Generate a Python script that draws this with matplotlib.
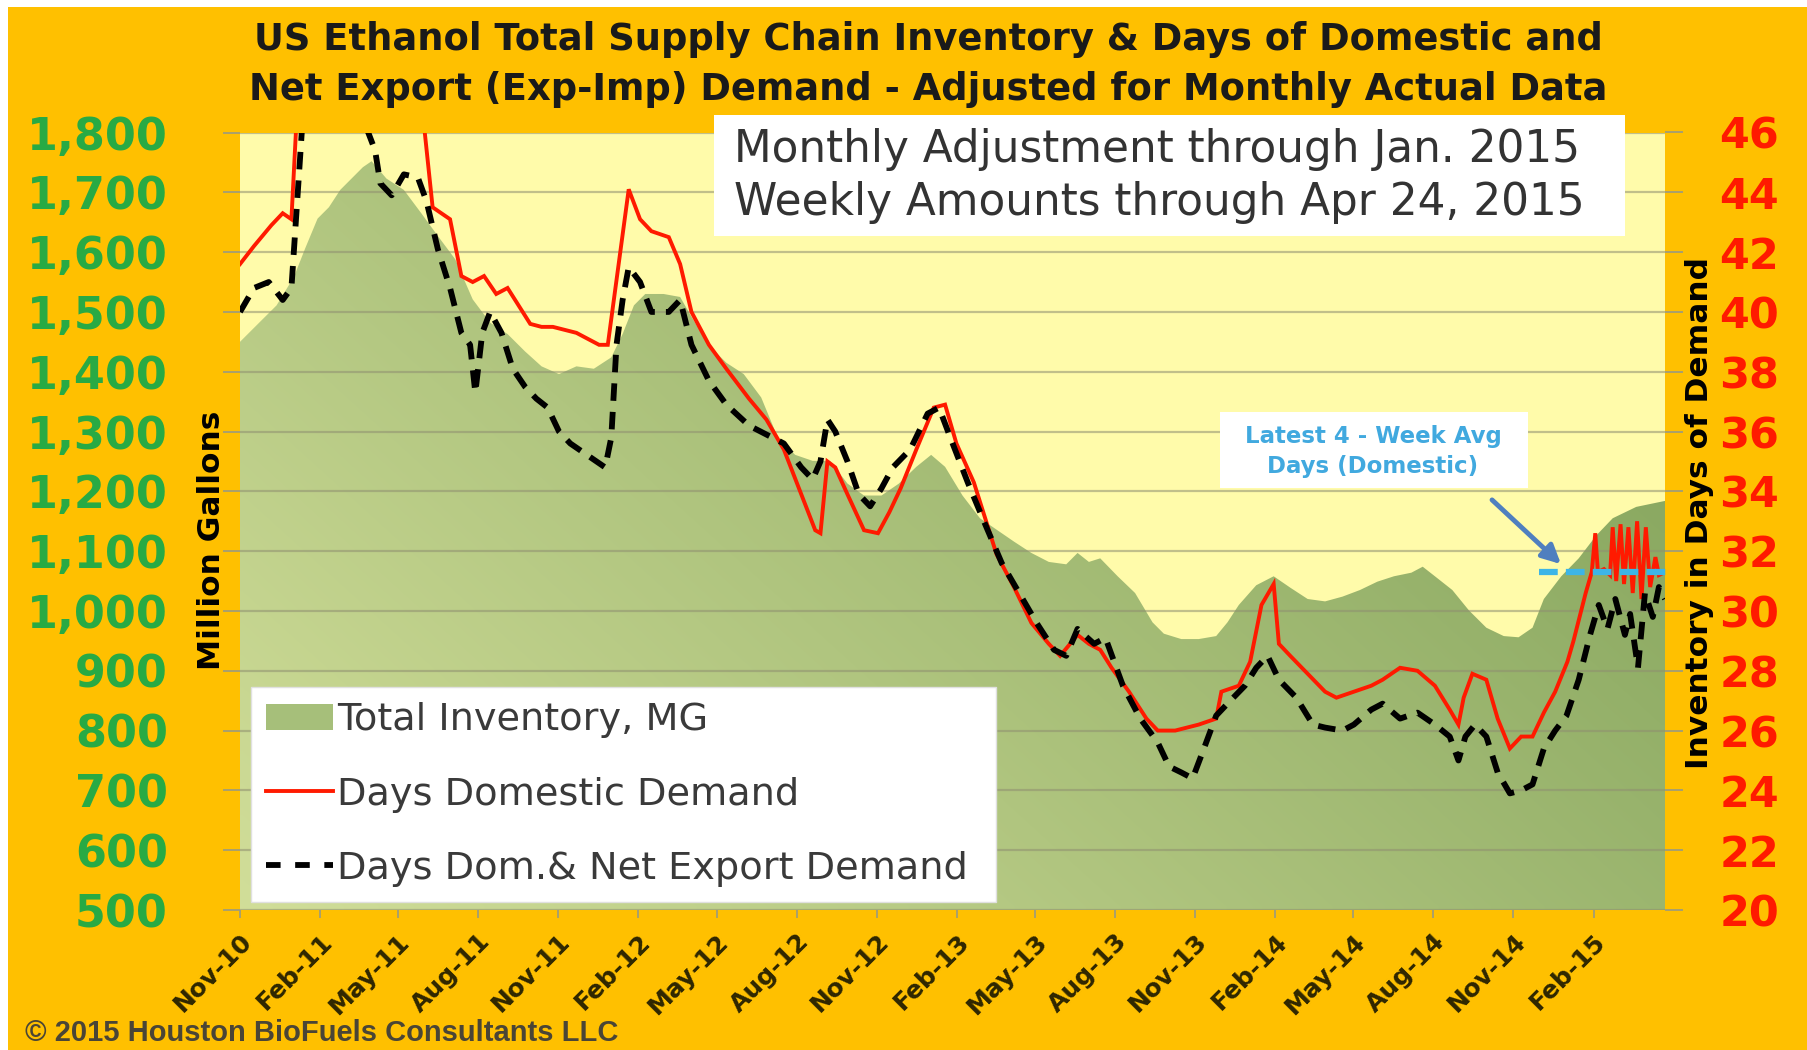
import matplotlib
matplotlib.use("Agg")
import matplotlib.pyplot as plt
import numpy as np
import pandas as pd
from matplotlib.lines import Line2D
from matplotlib.patches import Patch, Rectangle, FancyArrowPatch

# ---------------- data ----------------
inv_dates = ["2010-11-01", "2010-11-23", "2010-12-13", "2011-01-02", "2011-01-15", "2011-01-29",
             "2011-02-11", "2011-02-24", "2011-03-09", "2011-03-22", "2011-04-01", "2011-04-18",
             "2011-05-08", "2011-05-28", "2011-06-16", "2011-07-06", "2011-07-26", "2011-08-15",
             "2011-09-04", "2011-09-24", "2011-10-13", "2011-11-02", "2011-11-22", "2011-12-12",
             "2012-01-01", "2012-01-14", "2012-01-27", "2012-02-09", "2012-03-01", "2012-03-20",
             "2012-04-02", "2012-04-22", "2012-05-12", "2012-06-01", "2012-06-21", "2012-07-10",
             "2012-07-30", "2012-08-19", "2012-09-08", "2012-09-28", "2012-10-17", "2012-11-06",
             "2012-11-26", "2012-12-16", "2013-01-02", "2013-01-18", "2013-02-07", "2013-02-27",
             "2013-03-18", "2013-04-07", "2013-04-27", "2013-05-17", "2013-06-06", "2013-06-19",
             "2013-07-02", "2013-07-15", "2013-08-04", "2013-08-24", "2013-09-13", "2013-09-26",
             "2013-10-16", "2013-11-05", "2013-11-25", "2013-12-08", "2013-12-21", "2014-01-10",
             "2014-01-30", "2014-02-18", "2014-03-10", "2014-03-30", "2014-04-19", "2014-05-09",
             "2014-05-29", "2014-06-17", "2014-07-07", "2014-07-20", "2014-08-03", "2014-08-23",
             "2014-09-11", "2014-10-01", "2014-10-21", "2014-11-07", "2014-11-23", "2014-12-06",
             "2014-12-26", "2015-01-15", "2015-02-04", "2015-02-23", "2015-03-22", "2015-04-24"]
inv_mg = [1450, 1482, 1511, 1559, 1607, 1656,
          1675, 1704, 1723, 1742, 1752, 1723,
          1704, 1665, 1627, 1588, 1521, 1482,
          1463, 1434, 1409, 1396, 1409, 1405,
          1424, 1463, 1511, 1530, 1530, 1525,
          1492, 1444, 1415, 1396, 1357, 1290,
          1261, 1251, 1251, 1213, 1193, 1193,
          1213, 1241, 1261, 1241, 1193, 1155,
          1136, 1116, 1097, 1082, 1078, 1097,
          1082, 1088, 1058, 1030, 981, 962,
          953, 953, 958, 981, 1010, 1043,
          1058, 1039, 1020, 1016, 1024, 1035,
          1049, 1058, 1064, 1074, 1058, 1035,
          1001, 972, 958, 956, 972, 1020,
          1058, 1088, 1126, 1155, 1174, 1184]

dom_dates = ["2010-11-01", "2010-11-17", "2010-12-07", "2010-12-20", "2010-12-30", "2011-01-05",
             "2011-02-01", "2011-04-01", "2011-05-20", "2011-06-01", "2011-06-10", "2011-06-30",
             "2011-07-13", "2011-07-26", "2011-08-08", "2011-08-22", "2011-09-04", "2011-09-17",
             "2011-09-30", "2011-10-13", "2011-10-26", "2011-11-22", "2011-12-18", "2011-12-28",
             "2012-01-21", "2012-02-03", "2012-02-16", "2012-03-07", "2012-03-20", "2012-04-02",
             "2012-04-22", "2012-05-12", "2012-06-07", "2012-06-27", "2012-07-17", "2012-08-06",
             "2012-08-22", "2012-08-28", "2012-09-05", "2012-09-14", "2012-09-28", "2012-10-17",
             "2012-11-02", "2012-11-15", "2012-11-28", "2012-12-16", "2013-01-05", "2013-01-18",
             "2013-01-31", "2013-02-20", "2013-03-05", "2013-03-18", "2013-04-07", "2013-04-27",
             "2013-05-17", "2013-05-30", "2013-06-19", "2013-07-02", "2013-07-15", "2013-07-28",
             "2013-08-17", "2013-09-06", "2013-09-19", "2013-10-09", "2013-11-05", "2013-11-25",
             "2013-12-01", "2013-12-21", "2014-01-03", "2014-01-16", "2014-01-30", "2014-02-05",
             "2014-02-18", "2014-03-10", "2014-03-30", "2014-04-12", "2014-05-02", "2014-05-22",
             "2014-06-04", "2014-06-24", "2014-07-14", "2014-08-03", "2014-08-20", "2014-08-30",
             "2014-09-05", "2014-09-15", "2014-10-01", "2014-10-14", "2014-10-28", "2014-11-10",
             "2014-11-23", "2014-12-06", "2014-12-19", "2015-01-02", "2015-01-09", "2015-01-16",
             "2015-01-23", "2015-01-30", "2015-02-03", "2015-02-06", "2015-02-13", "2015-02-20",
             "2015-02-23", "2015-02-27", "2015-03-04", "2015-03-08", "2015-03-13", "2015-03-18",
             "2015-03-23", "2015-03-28", "2015-04-02", "2015-04-07", "2015-04-13", "2015-04-17",
             "2015-04-24"]
dom_days = [41.6, 42.2, 42.9, 43.3, 43.1, 46.5,
            49.0, 49.0, 47.5, 46.0, 43.5, 43.1,
            41.2, 41.0, 41.2, 40.6, 40.8, 40.2,
            39.6, 39.5, 39.5, 39.3, 38.9, 38.9,
            44.1, 43.1, 42.7, 42.5, 41.6, 40.0,
            38.9, 38.1, 37.1, 36.4, 35.4, 33.9,
            32.7, 32.6, 35.0, 34.8, 33.9, 32.7,
            32.6, 33.3, 34.1, 35.4, 36.8, 36.9,
            35.6, 34.3, 33.1, 31.9, 30.8, 29.6,
            28.9, 28.5, 29.2, 28.9, 28.7, 28.1,
            27.3, 26.4, 26.0, 26.0, 26.2, 26.4,
            27.3, 27.5, 28.3, 30.2, 30.9, 28.9,
            28.5, 27.9, 27.3, 27.1, 27.3, 27.5,
            27.7, 28.1, 28.0, 27.5, 26.7, 26.2,
            27.1, 27.9, 27.7, 26.4, 25.4, 25.8,
            25.8, 26.6, 27.3, 28.3, 29.0, 29.8,
            30.6, 31.3, 32.6, 31.3, 31.4, 31.2,
            32.8, 31.0, 32.9, 30.9, 32.8, 30.6,
            33.0, 30.4, 32.8, 30.8, 31.8, 31.2,
            31.3]

exp_dates = ["2010-11-01", "2010-11-17", "2010-12-04", "2010-12-20", "2010-12-30", "2011-01-12",
             "2011-02-15", "2011-03-15", "2011-04-05", "2011-04-11", "2011-04-24", "2011-05-08",
             "2011-05-24", "2011-06-03", "2011-06-16", "2011-06-30", "2011-07-13", "2011-07-23",
             "2011-07-29", "2011-08-06", "2011-08-15", "2011-08-28", "2011-09-10", "2011-09-24",
             "2011-10-07", "2011-10-20", "2011-11-02", "2011-11-15", "2011-12-05", "2011-12-25",
             "2012-01-01", "2012-01-07", "2012-01-14", "2012-01-21", "2012-02-03", "2012-02-16",
             "2012-03-07", "2012-03-20", "2012-04-02", "2012-04-22", "2012-05-12", "2012-06-07",
             "2012-06-27", "2012-07-17", "2012-08-06", "2012-08-19", "2012-08-28", "2012-09-05",
             "2012-09-14", "2012-09-28", "2012-10-11", "2012-10-24", "2012-11-06", "2012-11-19",
             "2012-12-09", "2012-12-29", "2013-01-11", "2013-01-24", "2013-02-13", "2013-03-05",
             "2013-03-24", "2013-04-13", "2013-05-03", "2013-05-23", "2013-06-06", "2013-06-19",
             "2013-07-08", "2013-07-21", "2013-08-10", "2013-08-30", "2013-09-19", "2013-10-02",
             "2013-10-16", "2013-10-29", "2013-11-11", "2013-11-25", "2013-12-08", "2013-12-28",
             "2014-01-10", "2014-01-23", "2014-02-05", "2014-02-25", "2014-03-16", "2014-03-30",
             "2014-04-19", "2014-05-02", "2014-05-22", "2014-06-04", "2014-06-24", "2014-07-14",
             "2014-08-03", "2014-08-20", "2014-08-30", "2014-09-07", "2014-09-18", "2014-10-01",
             "2014-10-14", "2014-10-28", "2014-11-10", "2014-11-23", "2014-12-06", "2014-12-19",
             "2015-01-01", "2015-01-15", "2015-01-28", "2015-02-07", "2015-02-17", "2015-02-26",
             "2015-03-09", "2015-03-15", "2015-03-24", "2015-04-01", "2015-04-10", "2015-04-17",
             "2015-04-24"]
exp_days = [40.0, 40.8, 41.0, 40.4, 40.8, 46.5,
            48.0, 47.0, 45.4, 44.3, 43.9, 44.6,
            44.5, 43.7, 42.1, 40.8, 39.3, 38.9,
            37.3, 39.3, 40.0, 39.3, 38.1, 37.5,
            37.1, 36.8, 36.0, 35.6, 35.2, 34.8,
            35.8, 38.9, 40.4, 41.5, 41.0, 40.0,
            40.0, 40.4, 38.9, 37.7, 36.9, 36.2,
            35.9, 35.6, 34.8, 34.4, 35.0, 36.4,
            36.0, 35.0, 33.9, 33.5, 34.1, 34.8,
            35.4, 36.6, 36.8, 35.8, 34.3, 32.9,
            31.6, 30.6, 29.6, 28.7, 28.5, 29.4,
            28.9, 29.1, 27.5, 26.4, 25.6, 24.8,
            24.6, 24.4, 25.4, 26.5, 26.9, 27.5,
            28.1, 28.5, 27.7, 27.1, 26.2, 26.1,
            26.0, 26.2, 26.7, 26.9, 26.4, 26.6,
            26.2, 25.8, 25.0, 25.8, 26.2, 25.8,
            24.6, 23.9, 24.0, 24.2, 25.4, 26.0,
            26.5, 27.7, 29.2, 30.2, 29.4, 30.4,
            29.2, 29.9, 28.1, 30.6, 29.8, 30.8,
            30.4]

avg4_dates = ["2014-12-01", "2015-05-01"]
avg4_days = [31.3, 31.3]

tick_months = pd.date_range("2010-11-01", "2015-02-01", freq="3MS")
tick_labels = [d.strftime("%b-%y") for d in tick_months]
left_ticks = list(range(500, 1801, 100))
right_ticks = list(range(20, 47, 2))

title_lines = ["US Ethanol Total Supply Chain Inventory & Days of Domestic and",
               "Net Export (Exp-Imp) Demand - Adjusted for Monthly Actual Data"]
box_lines = ["Monthly Adjustment through Jan. 2015",
             "Weekly Amounts through Apr 24, 2015"]

# ---------------- figure ----------------
W, H = 1807, 1050
fig = plt.figure(figsize=(W / 100, H / 100), dpi=100, facecolor="#FFC000")

def fx(px):
    return px / W

def fy(py):
    return 1 - py / H

# white border strips (scan edge)
fig.patches.append(Rectangle((0, fy(7)), 1, 7 / H, transform=fig.transFigure,
                             facecolor="white", edgecolor="none", zorder=0.5))
fig.patches.append(Rectangle((0, 0), 8 / W, 1, transform=fig.transFigure,
                             facecolor="white", edgecolor="none", zorder=0.5))

L, R, T, B = 240, 1665, 132.5, 910
ax = fig.add_axes([fx(L), fy(B), (R - L) / W, (B - T) / H])
ax.set_facecolor("#FFFBAA")

x_inv = pd.to_datetime(inv_dates)
x0, x1 = pd.Timestamp("2010-11-01"), pd.Timestamp("2015-04-24")
ax.set_xlim(x0, x1)
ax.set_ylim(500, 1800)

poly = ax.fill_between(x_inv, 500, inv_mg, facecolor="none", edgecolor="none", zorder=1)

# gradient fill clipped to the inventory area
ny, nx = 120, 240
xf = np.linspace(0, 1, nx)[None, :]
yf = np.linspace(1, 0, ny)[:, None]
t = np.clip(0.75 * xf + 0.45 * yf, 0, 1)
light = np.array([0.82, 0.87, 0.60])
dark = np.array([0.54, 0.66, 0.38])
grad = light[None, None, :] * (1 - t[..., None]) + dark[None, None, :] * t[..., None]
xn0, xn1 = ax.get_xlim()
im = ax.imshow(grad, extent=[xn0, xn1, 500, 1800], aspect="auto", origin="upper",
               zorder=1.2, interpolation="bilinear")
im.set_clip_path(poly.get_paths()[0], transform=ax.transData)
ax.set_xlim(xn0, xn1)
ax.set_ylim(500, 1800)

ax.set_yticks(left_ticks)
ax.set_yticklabels([f"{v:,}" for v in left_ticks])
ax.set_axisbelow(False)
ax.yaxis.grid(True, color="#8f8f70", lw=1.6, alpha=0.55)
ax.xaxis.grid(False)
for s in ax.spines.values():
    s.set_visible(False)
ax.tick_params(axis="y", direction="out", length=12, width=1.2, color="#9a9a80",
               pad=40, labelsize=32, labelcolor="#28AA44")
for lbl in ax.get_yticklabels():
    lbl.set_fontweight("bold")

ax.set_xticks(tick_months)
ax.set_xticklabels(tick_labels, rotation=45, ha="right", va="top",
                   rotation_mode="anchor", fontsize=18, fontweight="bold", color="#2E2600")
ax.tick_params(axis="x", direction="out", length=6, width=1.2, color="#9a9a80", pad=8)

# right axis
ax2 = ax.twinx()
ax2.set_ylim(20, 46)
ax2.set_xlim(xn0, xn1)
for s in ax2.spines.values():
    s.set_visible(False)
ax2.set_yticks(right_ticks)
ax2.set_yticklabels([str(v) for v in right_ticks])
ax2.tick_params(axis="y", direction="out", length=13, width=1.2, color="#9a9a80",
                pad=26, labelsize=31, labelcolor="#FF1A00")
for lbl in ax2.get_yticklabels():
    lbl.set_fontweight("bold")

ax2.plot(pd.to_datetime(dom_dates), dom_days, color="#FF1A00", lw=2.8, zorder=3,
         solid_joinstyle="miter")
ax2.plot(pd.to_datetime(exp_dates), exp_days, color="black", lw=4.2, zorder=4,
         dashes=(3, 1.9))
ax2.plot(pd.to_datetime(avg4_dates), avg4_days, color="#3DB5E6", lw=4.5, zorder=5,
         dashes=(3, 1.3), clip_on=False)

# legend
handles = [Patch(facecolor="#A6BF7A", edgecolor="none"),
           Line2D([], [], color="#FF1A00", lw=2.8),
           Line2D([], [], color="black", lw=4.2, dashes=(2.5, 2.5))]
labels = ["Total Inventory, MG", "Days Domestic Demand", "Days Dom.& Net Export Demand"]
leg = ax2.legend(handles, labels, loc="lower left",
                 bbox_to_anchor=(0.0077, 0.0103, 0.523, 0.278), mode="expand",
                 fontsize=27.5, frameon=True, fancybox=False, framealpha=1,
                 edgecolor="#e0e0e0", facecolor="white", handlelength=1.75,
                 handletextpad=0.1, labelspacing=1.0, borderpad=0.4,
                 borderaxespad=0)
for txt in leg.get_texts():
    txt.set_color("#3a3a3a")
leg.set_zorder(10)

# title
fig.text(fx(928), fy(40), title_lines[0], ha="center", va="center",
         fontsize=26.6, fontweight="bold", color="#1a1a1a")
fig.text(fx(928), fy(89), title_lines[1], ha="center", va="center",
         fontsize=26.6, fontweight="bold", color="#1a1a1a")

# info box
fig.patches.append(Rectangle((fx(714), fy(236)), (1625 - 714) / W, (236 - 115) / H,
                             transform=fig.transFigure, facecolor="white",
                             edgecolor="none", zorder=2))
fig.text(fx(734), fy(150), box_lines[0], ha="left", va="center", fontsize=31.5,
         color="#333333", zorder=3)
fig.text(fx(734), fy(203), box_lines[1], ha="left", va="center", fontsize=31.5,
         color="#333333", zorder=3)

# annotation
fig.patches.append(Rectangle((fx(1220), fy(488)), (1528 - 1220) / W, (488 - 412) / H,
                             transform=fig.transFigure, facecolor="white",
                             edgecolor="none", zorder=2))
fig.text(fx(1373), fy(437), "Latest 4 - Week Avg", ha="center", va="center",
         fontsize=16.5, fontweight="bold", color="#41A9DF", zorder=3)
fig.text(fx(1373), fy(466), "Days (Domestic)", ha="center", va="center",
         fontsize=16.5, fontweight="bold", color="#41A9DF", zorder=3)
arrow = FancyArrowPatch((fx(1490), fy(498)), (fx(1563), fy(566)),
                        transform=fig.transFigure, arrowstyle="-|>",
                        mutation_scale=28, color="#4F7FBF", lw=3.5, zorder=6)
fig.add_artist(arrow)

# axis titles
fig.text(fx(211), fy(540), "Million Gallons", rotation=90, ha="center", va="center",
         fontsize=22.5, fontweight="bold", color="black")
fig.text(fx(1700), fy(513), "Inventory in Days of Demand", rotation=90, ha="center",
         va="center", fontsize=22.5, fontweight="bold", color="black")

# copyright
fig.text(fx(25), fy(1047), "\u00a9 2015 Houston BioFuels Consultants LLC", ha="left",
         va="bottom", fontsize=21, fontweight="bold", color="#4a4536",
         family="Liberation Sans")

fig.savefig("out.png", dpi=100, facecolor=fig.get_facecolor())
